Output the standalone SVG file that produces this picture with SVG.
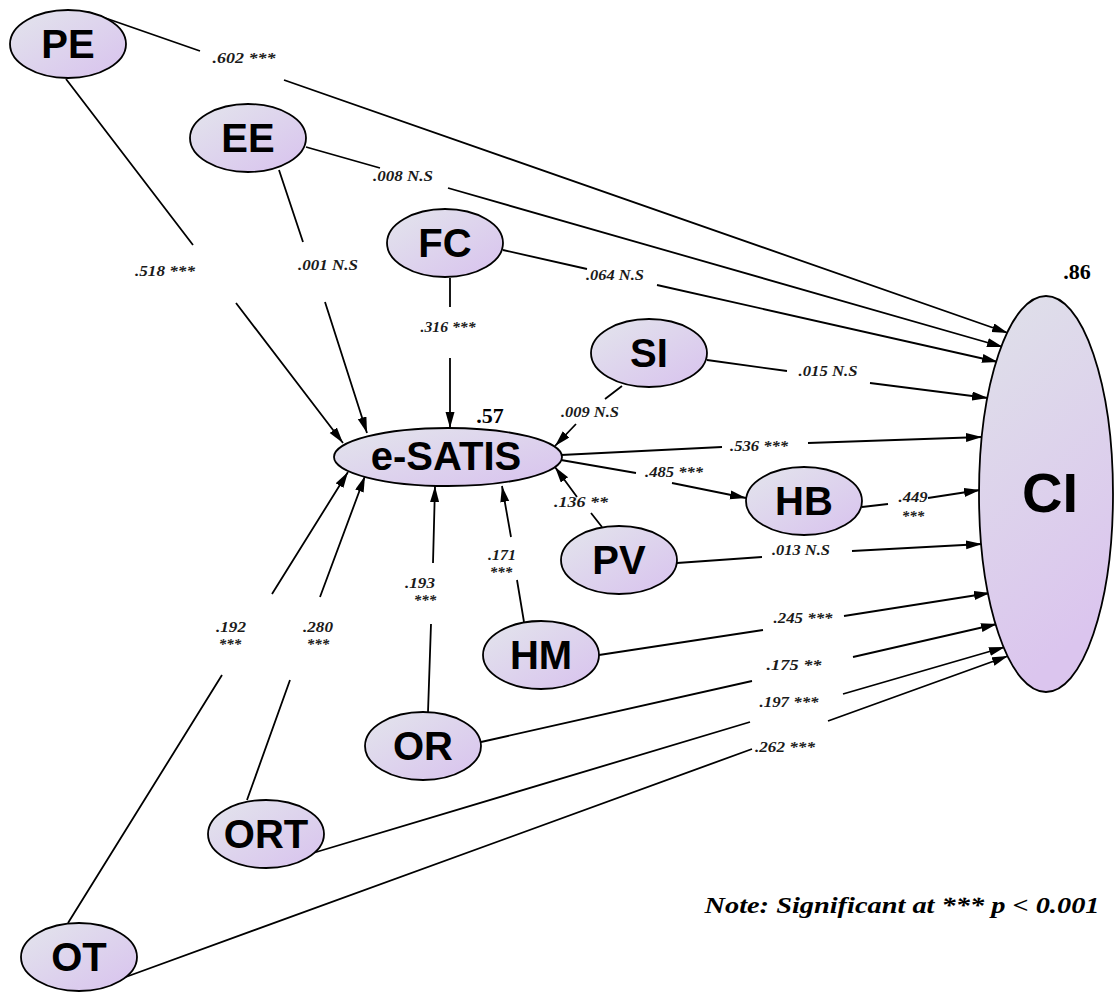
<svg xmlns="http://www.w3.org/2000/svg" width="1115" height="992" viewBox="0 0 1115 992">
<defs>
<linearGradient id="g" x1="0" y1="0" x2="1" y2="1">
<stop offset="0" stop-color="#e3e5ec"/>
<stop offset="1" stop-color="#d8c2ee"/>
</linearGradient>
<linearGradient id="gci" x1="0" y1="0" x2="0.3" y2="1">
<stop offset="0" stop-color="#dfe1e9"/>
<stop offset="1" stop-color="#dbc5ee"/>
</linearGradient>
<marker id="ah" markerUnits="userSpaceOnUse" markerWidth="17" markerHeight="10" refX="16" refY="4.5" orient="auto">
<path d="M0,0 L16,4.5 L0,9 z" fill="#000"/>
</marker>
<style>
.e { fill: url(#g); stroke: #000; stroke-width: 1.8; }
.n { font-family: "Liberation Sans", Arial, sans-serif; font-weight: bold; font-size: 40px; text-anchor: middle; fill: #000; }
.c path { fill: none; stroke: #000; stroke-width: 1.8; marker-end: url(#ah); }
.l { font-family: "Liberation Serif", "Times New Roman", serif; font-style: italic; font-weight: bold; font-size: 15px; text-anchor: middle; fill: #1a1a1a; }
.r { font-family: "Liberation Serif", "Times New Roman", serif; font-weight: bold; font-size: 22px; text-anchor: middle; fill: #000; }
.note { font-family: "Liberation Serif", "Times New Roman", serif; font-style: italic; font-weight: bold; font-size: 24px; text-anchor: middle; fill: #000; }
</style>
</defs>
<rect width="1115" height="992" fill="#fff"/>

<g id="connectors" class="c">
<path d="M88,12 L200,51 M284,80 L1008,333"/>
<path d="M306,147 L380,168 M448,188 L1003,347"/>
<path d="M503,250 L587,269 M657,285 L998,362"/>
<path d="M450,278 L450,307 M450,358 L450,428"/>
<path d="M707,360 L787,371 M870,383 L988,398"/>
<path d="M622,386 L605,399 M576,424 L555,446"/>
<path d="M561,455 L722,447 M808,443 L982,437"/>
<path d="M561,460 L636,473 M672,483 L746,498"/>
<path d="M862,507 L888,504 M928,498 L980,490"/>
<path d="M677,563 L762,557 M852,551 L982,544"/>
<path d="M602,527 L591,513 M577,497 L555,467"/>
<path d="M524,622 L517,580 M511,537 L502,486"/>
<path d="M428,712 L431,624 M433,563 L435,486"/>
<path d="M599,655 L763,630 M844,616 L990,593"/>
<path d="M481,742 L752,681 M853,657 L997,624"/>
<path d="M313,853 L750,722 M843,694 L1005,647"/>
<path d="M123,978 L752,749 M828,721 L1008,656"/>
<path d="M68,923 L222,675 M272,594 L348,472"/>
<path d="M247,800 L290,680 M320,597 L365,476"/>
<path d="M66,79 L193,245 M236,303 L343,443"/>
<path d="M279,170 L303,242 M325,302 L367,433"/>
</g>

<g id="labels">
<text class="l" x="244" y="63" textLength="63" lengthAdjust="spacingAndGlyphs">.602  ***</text>
<text class="l" x="165" y="276" textLength="60" lengthAdjust="spacingAndGlyphs">.518 ***</text>
<text class="l" x="403" y="181" textLength="60" lengthAdjust="spacingAndGlyphs">.008 N.S</text>
<text class="l" x="328" y="270" textLength="60" lengthAdjust="spacingAndGlyphs">.001 N.S</text>
<text class="l" x="615" y="280" textLength="58" lengthAdjust="spacingAndGlyphs">.064 N.S</text>
<text class="l" x="448" y="332" textLength="55" lengthAdjust="spacingAndGlyphs">.316 ***</text>
<text class="l" x="828" y="376" textLength="59" lengthAdjust="spacingAndGlyphs">.015 N.S</text>
<text class="l" x="590" y="417" textLength="58" lengthAdjust="spacingAndGlyphs">.009 N.S</text>
<text class="l" x="759" y="451" textLength="58" lengthAdjust="spacingAndGlyphs">.536 ***</text>
<text class="l" x="674" y="477" textLength="58" lengthAdjust="spacingAndGlyphs">.485 ***</text>
<text class="l" x="913" y="502" textLength="29" lengthAdjust="spacingAndGlyphs">.449</text>
<text class="l" x="913" y="521">***</text>
<text class="l" x="801" y="555" textLength="58" lengthAdjust="spacingAndGlyphs">.013 N.S</text>
<text class="l" x="581" y="507" textLength="54" lengthAdjust="spacingAndGlyphs">.136  **</text>
<text class="l" x="502" y="560" textLength="28" lengthAdjust="spacingAndGlyphs">.171</text>
<text class="l" x="501" y="577">***</text>
<text class="l" x="420" y="588" textLength="30" lengthAdjust="spacingAndGlyphs">.193</text>
<text class="l" x="425" y="605">***</text>
<text class="l" x="803" y="623" textLength="59" lengthAdjust="spacingAndGlyphs">.245 ***</text>
<text class="l" x="794" y="670" textLength="55" lengthAdjust="spacingAndGlyphs">.175  **</text>
<text class="l" x="789" y="707" textLength="59" lengthAdjust="spacingAndGlyphs">.197 ***</text>
<text class="l" x="785" y="752" textLength="60" lengthAdjust="spacingAndGlyphs">.262 ***</text>
<text class="l" x="231" y="632" textLength="30" lengthAdjust="spacingAndGlyphs">.192</text>
<text class="l" x="230" y="649">***</text>
<text class="l" x="318" y="632" textLength="30" lengthAdjust="spacingAndGlyphs">.280</text>
<text class="l" x="318" y="649">***</text>
<text class="r" x="490" y="423">.57</text>
<text class="r" x="1077" y="279">.86</text>
<text class="note" x="902" y="913" textLength="395" lengthAdjust="spacingAndGlyphs">Note: Significant at ***  p &lt; 0.001</text>
</g>

<g id="PE"><ellipse class="e" cx="68" cy="44" rx="58" ry="34"/><text class="n" x="68" y="58">PE</text></g>
<g id="EE"><ellipse class="e" cx="248" cy="138" rx="58" ry="34"/><text class="n" x="248" y="152">EE</text></g>
<g id="FC"><ellipse class="e" cx="445" cy="243" rx="58" ry="34"/><text class="n" x="445" y="257">FC</text></g>
<g id="SI"><ellipse class="e" cx="649" cy="353" rx="58" ry="34"/><text class="n" x="649" y="367">SI</text></g>
<g id="e-SATIS"><ellipse class="e" cx="448" cy="457" rx="114" ry="29"/><text class="n" x="446" y="470">e-SATIS</text></g>
<g id="HB"><ellipse class="e" cx="804" cy="501" rx="58" ry="34"/><text class="n" x="804" y="515">HB</text></g>
<g id="PV"><ellipse class="e" cx="619" cy="560" rx="58" ry="34"/><text class="n" x="619" y="574">PV</text></g>
<g id="HM"><ellipse class="e" cx="541" cy="655" rx="58" ry="34"/><text class="n" x="541" y="669">HM</text></g>
<g id="OR"><ellipse class="e" cx="423" cy="746" rx="58" ry="34"/><text class="n" x="423" y="760">OR</text></g>
<g id="ORT"><ellipse class="e" cx="266" cy="834" rx="58" ry="34"/><text class="n" x="266" y="848">ORT</text></g>
<g id="OT"><ellipse class="e" cx="79" cy="957" rx="58" ry="34"/><text class="n" x="79" y="971">OT</text></g>
<g id="CI"><ellipse cx="1046" cy="494" rx="67" ry="198" fill="url(#gci)" stroke="#000" stroke-width="1.8"/><text class="n" x="1050" y="512" style="font-size:56px">CI</text></g>
</svg>
